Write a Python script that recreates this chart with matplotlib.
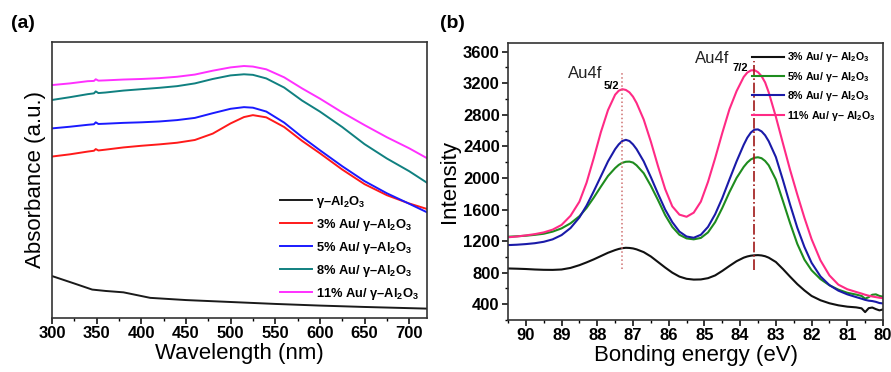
import matplotlib
matplotlib.use("Agg")
import matplotlib.pyplot as plt
from matplotlib.ticker import MultipleLocator

plt.rcParams['font.family'] = ['Liberation Sans', 'DejaVu Sans']
plt.rcParams['mathtext.fontset'] = 'custom'
plt.rcParams['mathtext.rm'] = 'Liberation Sans'
plt.rcParams['mathtext.bf'] = 'Liberation Sans:bold'

# ---- (a) UV-vis absorbance, arbitrary units ----
wl_black = [300, 325, 345, 360, 380, 395, 410, 430, 450, 500, 550, 600, 650, 720]
abs_black = [0.152, 0.125, 0.103, 0.098, 0.093, 0.083, 0.073, 0.069, 0.065,
             0.058, 0.051, 0.045, 0.040, 0.034]

wl = [300, 320, 340, 347, 349, 352, 360, 380, 400, 420, 440, 460, 480, 500,
      515, 525, 540, 560, 580, 600, 625, 650, 675, 700, 720]
abs_3 = [0.585, 0.593, 0.603, 0.606, 0.612, 0.607, 0.610, 0.618, 0.624, 0.629,
         0.635, 0.645, 0.668, 0.705, 0.728, 0.735, 0.727, 0.692, 0.642, 0.597,
         0.538, 0.485, 0.445, 0.415, 0.395]
abs_5 = [0.687, 0.693, 0.700, 0.702, 0.709, 0.703, 0.704, 0.707, 0.709, 0.712,
         0.717, 0.725, 0.742, 0.758, 0.764, 0.762, 0.748, 0.708, 0.656, 0.608,
         0.550, 0.496, 0.452, 0.414, 0.383]
abs_8 = [0.790, 0.800, 0.811, 0.814, 0.821, 0.815, 0.817, 0.824, 0.829, 0.834,
         0.840, 0.850, 0.866, 0.879, 0.883, 0.881, 0.868, 0.835, 0.788, 0.748,
         0.692, 0.630, 0.578, 0.532, 0.490]
abs_11 = [0.844, 0.850, 0.858, 0.859, 0.865, 0.860, 0.861, 0.864, 0.866, 0.869,
          0.874, 0.882, 0.896, 0.908, 0.913, 0.911, 0.901, 0.872, 0.832, 0.795,
          0.745, 0.699, 0.655, 0.615, 0.579]

labels_a = [r'γ–Al$_\mathbf{2}$O$_\mathbf{3}$',
            r'3% Au/ γ–Al$_\mathbf{2}$O$_\mathbf{3}$',
            r'5% Au/ γ–Al$_\mathbf{2}$O$_\mathbf{3}$',
            r'8% Au/ γ–Al$_\mathbf{2}$O$_\mathbf{3}$',
            r'11% Au/ γ–Al$_\mathbf{2}$O$_\mathbf{3}$']
colors_a = ['#1a1a1a', '#ff1a1a', '#1a1aff', '#108080', '#ff30ff']

# ---- (b) XPS Au4f ----
be = [90.5, 90.25, 90.0, 89.75, 89.5, 89.25, 89.0, 88.75, 88.5, 88.3,
      88.1, 87.9, 87.7, 87.5, 87.4, 87.3, 87.2, 87.1, 87.0, 86.9,
      86.7, 86.5, 86.3, 86.1, 85.9, 85.7, 85.5, 85.3, 85.1, 84.9,
      84.7, 84.5, 84.3, 84.1, 83.9, 83.8, 83.7, 83.6, 83.5, 83.4,
      83.3, 83.2, 83.0, 82.8, 82.6, 82.4, 82.2, 82.0, 81.75, 81.5,
      81.25, 81.0, 80.75, 80.6, 80.5, 80.4, 80.3, 80.2, 80.1, 80.0]
int_3 = [853, 850, 846, 840, 836, 835, 840, 860, 895, 930,
         968, 1010, 1052, 1086, 1100, 1110, 1115, 1113, 1107, 1095,
         1060, 1005, 935, 865, 800, 750, 722, 712, 714, 730,
         765, 822, 885, 945, 990, 1005, 1015, 1020, 1022, 1018,
         1008, 990, 935, 845, 748, 655, 575, 505, 450, 412,
         386, 369, 360, 348, 300, 350, 358, 338, 322, 334]
int_5 = [1255, 1261, 1268, 1279, 1293, 1320, 1361, 1425, 1515, 1620,
         1750, 1890, 2025, 2125, 2165, 2192, 2205, 2207, 2195, 2160,
         2060, 1900, 1720, 1530, 1380, 1280, 1234, 1222, 1240, 1310,
         1440, 1620, 1820, 2000, 2140, 2195, 2235, 2256, 2262, 2250,
         2215, 2160, 1980, 1705, 1425, 1165, 965, 830, 718, 640,
         585, 545, 522, 505, 470, 490, 520, 525, 505, 495]
int_8 = [1149, 1154, 1162, 1173, 1191, 1222, 1276, 1365, 1500, 1650,
         1830, 2020, 2210, 2365, 2425, 2468, 2483, 2468, 2425, 2365,
         2210, 2010, 1800, 1600, 1440, 1320, 1258, 1242, 1280, 1380,
         1540, 1745, 1980, 2210, 2420, 2510, 2575, 2612, 2615, 2590,
         2540, 2465, 2265, 1970, 1660, 1370, 1125, 925, 752, 642,
         572, 525, 490, 470, 455, 445, 440, 430, 415, 410]
int_11 = [1248, 1258, 1272, 1288, 1310, 1345, 1405, 1520, 1700, 1940,
          2250, 2580, 2860, 3055, 3105, 3125, 3115, 3085, 3030, 2950,
          2740, 2460, 2150, 1860, 1640, 1535, 1508, 1560, 1700, 1950,
          2250, 2570, 2870, 3100, 3280, 3335, 3362, 3366, 3340, 3290,
          3210, 3085, 2775, 2435, 2100, 1790, 1495, 1225, 955, 765,
          648, 590, 555, 535, 520, 508, 498, 490, 482, 476]

labels_b = [r'3% Au/ γ– Al$_\mathbf{2}$O$_\mathbf{3}$',
            r'5% Au/ γ– Al$_\mathbf{2}$O$_\mathbf{3}$',
            r'8% Au/ γ– Al$_\mathbf{2}$O$_\mathbf{3}$',
            r'11% Au/ γ– Al$_\mathbf{2}$O$_\mathbf{3}$']
colors_b = ['#111111', '#1e8c1e', '#1a1aa8', '#ff2a85']

peak_pos = [87.3, 83.6]

fig = plt.figure(figsize=(8.91, 3.72), dpi=100)
ax1 = fig.add_axes([52 / 891, 54 / 372, 375 / 891, 276 / 372])
ax2 = fig.add_axes([508 / 891, 52 / 372, 375 / 891, 277 / 372])

# (a)
ax1.plot(wl_black, abs_black, color=colors_a[0], lw=1.4, label=labels_a[0])
for ys, c, lab in zip([abs_3, abs_5, abs_8, abs_11], colors_a[1:], labels_a[1:]):
    ax1.plot(wl, ys, color=c, lw=1.4, label=lab)
ax1.set_xlim(300, 720)
ax1.set_ylim(0, 1)
ax1.set_yticks([])
ax1.xaxis.set_major_locator(MultipleLocator(50))
ax1.xaxis.set_minor_locator(MultipleLocator(25))
ax1.set_xlabel('Wavelength (nm)', fontsize=16, labelpad=1)
ax1.set_ylabel('Absorbance (a.u.)', fontsize=16, labelpad=4)
ax1.legend(loc='lower right', bbox_to_anchor=(1.0, 0.03), frameon=False,
           prop={'weight': 'bold', 'size': 9.3}, handlelength=2.5,
           labelspacing=0.55, handletextpad=0.3, borderaxespad=0.2)

# (b)
for ys, c, lab in zip([int_3, int_5, int_8, int_11], colors_b, labels_b):
    ax2.plot(be, ys, color=c, lw=1.5, label=lab)
ax2.vlines(peak_pos[0], 840, 3350, colors='#d07070', linestyles=':', lw=1.1)
ax2.vlines(peak_pos[1], 830, 3480, colors='#a01818', linestyles='-.', lw=1.2)
ax2.text(88.35, 3320, 'Au4f', fontsize=12, ha='center', va='center', color='#222222')
ax2.text(87.6, 3160, '5/2', fontsize=8, fontweight='bold', ha='center', va='center')
ax2.text(84.79, 3510, 'Au4f', fontsize=12, ha='center', va='center', color='#222222')
ax2.text(84.0, 3390, '7/2', fontsize=8, fontweight='bold', ha='center', va='center')
ax2.set_xlim(90.5, 80)
ax2.set_ylim(200, 3710)
ax2.xaxis.set_major_locator(MultipleLocator(1))
ax2.xaxis.set_minor_locator(MultipleLocator(0.5))
ax2.yaxis.set_major_locator(MultipleLocator(400))
ax2.yaxis.set_minor_locator(MultipleLocator(200))
ax2.set_yticks(range(400, 3601, 400))
ax2.set_xlabel('Bonding energy (eV)', fontsize=16, labelpad=1)
ax2.set_ylabel('Intensity', fontsize=16, labelpad=2)
ax2.legend(loc='upper right', frameon=False, prop={'weight': 'bold', 'size': 7.7},
           handlelength=3.0, labelspacing=0.5, handletextpad=0.3,
           borderaxespad=0.3)

for ax in (ax1, ax2):
    for s in ax.spines.values():
        s.set_linewidth(1.2)
        s.set_color('#333333')
    ax.tick_params(which='major', direction='out', length=4, width=1.1,
                   labelsize=12, pad=2)
    ax.tick_params(which='minor', direction='out', length=2.5, width=1)
    for t in ax.get_xticklabels() + ax.get_yticklabels():
        t.set_fontweight('bold')

fig.text(0.012, 0.925, '(a)', fontsize=14, fontweight='bold')
fig.text(0.494, 0.925, '(b)', fontsize=14, fontweight='bold')

fig.savefig('out.png', dpi=100)
